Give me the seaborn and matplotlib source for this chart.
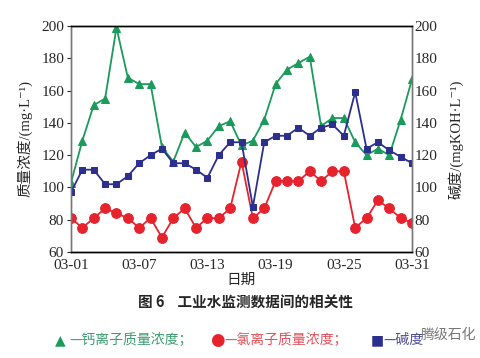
import numpy as np
import pandas as pd
import matplotlib
matplotlib.use('Agg')
import matplotlib.pyplot as plt
import seaborn as sns

# Data (days 03-01 .. 03-31)
days = list(range(1, 32))
calcium = [103, 129, 151, 155, 199, 168, 164, 164, 125, 116,
           134, 125, 129, 138, 141, 126, 129, 142, 164, 173,
           177, 181, 138, 143, 143, 128, 120, 124, 120, 142, 167]
chloride = [81, 75, 81, 87, 84, 81, 75, 81, 69, 81,
            87, 75, 81, 81, 87, 116, 81, 87, 104, 104,
            104, 110, 104, 110, 110, 75, 81, 92, 87, 81, 78]
alkalinity = [97, 111, 111, 102, 102, 107, 115, 120, 124, 115,
              115, 111, 106, 120, 128, 128, 88, 128, 132, 132,
              137, 132, 137, 139, 132, 159, 124, 128, 123, 119, 115]
tick_days = [1, 7, 13, 19, 25, 31]
tick_labels = ['03-01', '03-07', '03-13', '03-19', '03-25', '03-31']
y_ticks = [60, 80, 100, 120, 140, 160, 180, 200]

GREEN = '#1b9a5c'
RED = '#e6222c'
BLUE = '#2c2f8e'
SERIF = ['Liberation Serif', 'Noto Sans CJK SC', 'DejaVu Serif']
CJK = ['Noto Sans CJK SC', 'DejaVu Sans']

df = pd.DataFrame({'day': days, 'calcium': calcium,
                   'chloride': chloride, 'alkalinity': alkalinity})

sns.set_style('white')
plt.rcParams['font.family'] = SERIF

fig = plt.figure(figsize=(4.81, 3.58), dpi=100)
ax = fig.add_axes([0.1476, 0.296, 0.709, 0.6314])
ax2 = ax.twinx()

sns.lineplot(data=df, x='day', y='calcium', ax=ax, color=GREEN, lw=1.3,
             marker='^', markersize=6, markeredgecolor=GREEN)
sns.lineplot(data=df, x='day', y='chloride', ax=ax, color=RED, lw=1.3,
             marker='o', markersize=7, markeredgecolor=RED)
sns.lineplot(data=df, x='day', y='alkalinity', ax=ax2, color=BLUE, lw=1.3,
             marker='s', markersize=5, markeredgecolor=BLUE)

for a in (ax, ax2):
    a.set_xlim(1, 31)
    a.set_ylim(60, 200)
    a.set_yticks(y_ticks)
    a.set_xlabel('')
    a.set_ylabel('')

ax.set_xticks(tick_days)
ax.set_xticklabels(tick_labels, fontsize=11)
ax.set_yticklabels([str(v) for v in y_ticks], fontsize=11)
ax2.set_yticklabels([str(v) for v in y_ticks], fontsize=11)
ax.tick_params(axis='x', direction='in', length=4, width=0.8, pad=5)
ax.tick_params(axis='y', direction='out', length=3, width=0.8, pad=2, left=True)
ax2.tick_params(axis='y', direction='in', length=0, pad=2, right=True)

for a in (ax, ax2):
    a.spines['top'].set_color('black')
    a.spines['bottom'].set_color('black')
    a.spines['left'].set_color('#777777')
    a.spines['right'].set_color('#777777')
    for s in a.spines.values():
        s.set_linewidth(1.0)

fig.text(0.052, 0.612, '质量浓度/(mg·L⁻¹)', rotation=90, ha='center',
         va='center', fontsize=10.5, family=SERIF)
fig.text(0.948, 0.612, '碱度/(mgKOH·L⁻¹)', rotation=90, ha='center',
         va='center', fontsize=10.5, family=SERIF)
fig.text(0.501, 0.218, '日期', ha='center', va='center', fontsize=10.5,
         family=CJK)
fig.text(0.51, 0.153, '图 6    工业水监测数据间的相关性', ha='center',
         va='center', fontsize=10.5, fontweight='bold', family=CJK)

# Legend line under the caption
y_leg = 0.05
fig.text(0.115, y_leg, '▲', color=GREEN, fontsize=10, ha='left',
         va='center', family=['DejaVu Sans'])
fig.text(0.145, y_leg, '—钙离子质量浓度；', color='#3f9c72', fontsize=10,
         ha='left', va='center', family=CJK)
fig.text(0.436, y_leg, '●', color=RED, fontsize=12, ha='left',
         va='center', family=['DejaVu Sans'])
fig.text(0.466, y_leg, '—氯离子质量浓度；', color='#e2525b', fontsize=10,
         ha='left', va='center', family=CJK)
fig.text(0.770, y_leg, '■', color=BLUE, fontsize=10, ha='left',
         va='center', family=['DejaVu Sans'])
fig.text(0.797, y_leg, '—碱度', color='#4a4c99', fontsize=10,
         ha='left', va='center', family=CJK)
fig.text(0.875, y_leg + 0.014, '腾级石化', color='#555555', fontsize=10,
         ha='left', va='center', alpha=0.8, family=CJK)

fig.savefig('out.png', dpi=100)
